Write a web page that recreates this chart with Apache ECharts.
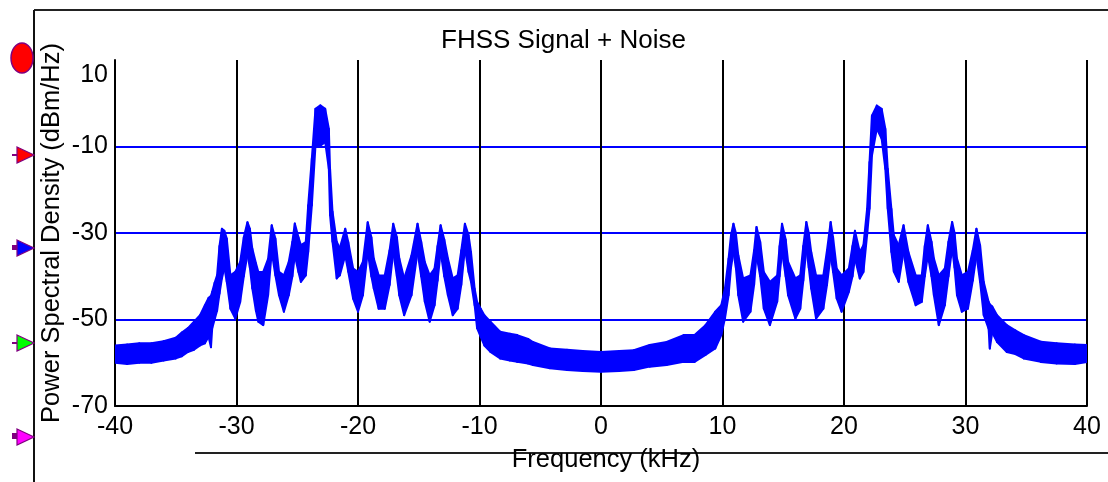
<!DOCTYPE html>
<html>
<head>
<meta charset="utf-8">
<script src="https://cdn.jsdelivr.net/npm/echarts@6/dist/echarts.min.js"></script>
<style>
html,body{margin:0;padding:0;background:#fff;}
#chart{width:1108px;height:482px;}
</style>
</head>
<body>
<div id="chart"></div>
<script>
// Frequency (kHz) of read points
var freqKHz = [
-40,-39,-38,-37,-36,-35,-34.5,-34,-33.5,-33,-32.6,-32.3,-32.1,-32,-31.8,-31.6,-31.4,-31.2,-31,-30.8,-30.5,-30.1,-29.7,-29.4,-29.1,-28.9,-28.7,-28.4,-28.2,-27.8,-27.4,-27.1,-26.8,-26.5,-26.1,-25.7,-25.4,-25.2,-24.9,-24.7,-24.3,-24.1,-23.8,-23.5,-23.1,-22.7,-22.4,-22.3,-22.1,-21.75,-21.5,-21.05,-20.8,-20.4,-20,-19.6,-19.2,-18.9,-18.7,-18.3,-17.8,-17.4,-17.1,-16.8,-16.6,-16.2,-15.6,-15.1,-14.8,-14.5,-14.1,-13.7,-13.45,-13.2,-12.9,-12.6,-12.2,-11.8,-11.5,-11.2,-10.9,-10.7,-10.4,-10.2,-9.9,-9.6,-9.1,-8.3,-7.5,-6.9,-6,-5.6,-4.2,-2.8,-1.5,0,
1.5,2.7,4,5.4,6.8,7.7,8.6,9.4,9.9,10.2,10.5,10.7,10.9,11.1,11.3,11.7,12.3,12.6,12.8,13.1,13.4,13.9,14.5,14.7,14.9,15.2,15.4,16,16.4,16.65,16.9,17.1,17.3,17.7,18.3,18.6,18.9,19.1,19.4,19.8,20.4,20.7,20.9,21.3,21.6,21.9,22.1,22.3,22.7,23.1,23.4,23.6,23.9,24.1,24.5,24.9,25.3,25.9,26.4,26.65,26.9,27.2,27.4,27.8,28.3,28.6,28.9,29.1,29.3,29.7,30.2,30.6,30.9,31.2,31.5,31.9,32,32.2,32.6,33.4,34.1,34.8,36.2,37.5,39,40
];
// Upper edge of the noisy trace (dBm/Hz)
var psdHigh = [
-56,-55.8,-55.5,-55.5,-55,-54.2,-53,-52,-50.5,-49,-46.7,-45,-44.5,-43.6,-41.5,-39.8,-33,-29,-29.5,-31.3,-39.8,-39,-36.7,-31,-27.5,-29,-33.6,-37,-39,-39,-36,-28.2,-31.3,-39,-39.8,-36.7,-32,-27.8,-31,-32.8,-32.1,-23.6,-12.8,-1.3,-0.5,-1.3,-5.9,-15.2,-25,-32,-33.5,-29,-32.1,-38.2,-39,-36.7,-27.5,-31,-35.9,-39.8,-39.8,-34,-27.85,-31,-35.9,-40.5,-35.2,-27.85,-32,-36.7,-39.8,-38.2,-33,-28.2,-31.5,-35.9,-40.5,-39.8,-34,-27.85,-30.5,-34.4,-42.85,-45.9,-47.5,-49,-50.5,-52.8,-53.3,-53.6,-54.5,-55.2,-56.7,-57,-57.3,-57.5,
-57.3,-57.1,-55.9,-55.2,-53.6,-53.6,-51.3,-48.2,-46.7,-42.85,-35.9,-30.5,-27.85,-30,-35.15,-40.5,-39.8,-34,-28.6,-32,-39,-41.3,-39.8,-33,-27.85,-31.5,-36.7,-40.5,-39.8,-33,-27.46,-30,-34.4,-39.8,-39.8,-34,-27.46,-31,-38.2,-39.8,-38.2,-33,-29.5,-34.4,-32.8,-24.4,-13.6,-2.85,-0.54,-1.31,-5.9,-15.15,-24.4,-30.5,-32.85,-28.2,-34.4,-39.8,-39.8,-33,-28.2,-32,-35.9,-39.8,-38.2,-32,-27.46,-30,-35.9,-39.8,-39,-34,-29,-32.85,-41.3,-45.9,-46.5,-47,-49,-51.3,-52.5,-53.6,-55.15,-55.5,-55.8,-55.9
];
// Lower edge of the noisy trace (dBm/Hz)
var psdLow = [
-60,-60.3,-60,-60,-59.5,-59,-58.5,-57.5,-57,-56,-55.5,-54,-56.4,-52,-50,-48,-44,-40.5,-38,-41.3,-47.5,-49.8,-46,-40,-35,-38,-42.8,-48,-50.5,-51.3,-44.4,-34.4,-39.8,-44.4,-48.2,-44.4,-40,-35.2,-39,-41.3,-39.8,-34.4,-23.6,-9.8,-9.8,-9,-15.2,-25.9,-32,-40.5,-39.8,-35.2,-39,-45.2,-48.2,-44.4,-34.4,-40,-42.85,-47.5,-47.5,-42,-34.4,-40,-44.4,-49,-44.4,-34.4,-40,-45.9,-50.5,-46.7,-41,-34.4,-40,-44.4,-49,-47.5,-42,-33.6,-39,-41.3,-46.7,-52,-54,-56,-57.5,-59,-59.5,-59.8,-60.2,-60.5,-61.3,-61.7,-61.9,-62.1,
-61.9,-61.7,-60.9,-60.5,-59.8,-59.8,-58.2,-56.7,-53.6,-49.8,-44.4,-38,-34.4,-38,-44.4,-50.5,-48.2,-42,-35.15,-40,-47.5,-51.3,-45.9,-40,-34.4,-40,-44.4,-49.8,-47.5,-41,-33.6,-38,-42.85,-49.8,-47.5,-42,-35.15,-39,-45.15,-48.2,-43.6,-40,-35.9,-40.5,-39,-30.5,-24.4,-12.1,-5.9,-8.23,-15.15,-24.4,-34.4,-38.9,-41.3,-34.4,-41.3,-46.7,-45.9,-40,-35.15,-40,-44.4,-51.3,-46.7,-40,-33.6,-38,-44.4,-48.2,-47.5,-41,-35.15,-41.3,-49,-52.1,-56.7,-53,-55.2,-57.5,-58,-59,-59.8,-60.15,-60.3,-59.8
];
var xTicks = [-40,-30,-20,-10,0,10,20,30,40];
var yTicks = [-70,-50,-30,-10,10];

var traceData = freqKHz.map(function(f,i){return [f, psdHigh[i], psdLow[i]];});

var FONT = 'Liberation Sans, Arial, sans-serif';
var BLUE = '#0000ff';
var chart = echarts.init(document.getElementById('chart'), null, {renderer:'canvas'});
var purple = '#800080';
function tri(cy, fill){
  return {type:'polygon', shape:{points:[[17,cy-8],[34,cy],[17,cy+8]]}, style:{fill:fill, stroke:purple, lineWidth:1.2}, z:10};
}
function renderBand(params, api){
  var i = params.dataIndexInside;
  var n = params.dataInsideLength;
  if (i >= n - 1) return null;
  var a1 = api.coord([api.value(0,i), api.value(1,i)]);
  var b1 = api.coord([api.value(0,i+1), api.value(1,i+1)]);
  var b2 = api.coord([api.value(0,i+1), api.value(2,i+1)]);
  var a2 = api.coord([api.value(0,i), api.value(2,i)]);
  return {type:'polygon', shape:{points:[a1,b1,b2,a2]},
    style:{fill:BLUE, stroke:BLUE, lineWidth:2, lineJoin:'round'}};
}
chart.setOption({
  animation:false,
  backgroundColor:'#fff',
  title:{text:'FHSS Signal + Noise', left:436, top:23,
    textStyle:{fontFamily:FONT, fontSize:26, fontWeight:'normal', color:'#000'}},
  grid:{left:115, right:21, top:60, bottom:76, containLabel:false},
  xAxis:{type:'value', min:xTicks[0], max:xTicks[xTicks.length-1], interval:10,
    name:'Frequency (kHz)', nameLocation:'middle', nameGap:41, nameMoveOverlap:false,
    nameTextStyle:{fontFamily:FONT, fontSize:25.5, color:'#000', padding:[0,0,0,10]},
    axisLine:{show:true, onZero:false, lineStyle:{color:'#000', width:2}},
    axisTick:{show:false},
    axisLabel:{fontFamily:FONT, fontSize:25, color:'#000', margin:9},
    splitLine:{show:true, lineStyle:{color:'#000', width:2}}
  },
  yAxis:{type:'value', min:yTicks[0], max:yTicks[yTicks.length-1], interval:20,
    name:'Power Spectral Density (dBm/Hz)', nameLocation:'middle', nameGap:50, nameMoveOverlap:false,
    nameTextStyle:{fontFamily:FONT, fontSize:25.5, color:'#000'},
    axisLine:{show:true, onZero:false, lineStyle:{color:'#000', width:2}},
    axisTick:{show:false},
    axisLabel:{fontFamily:FONT, fontSize:25, color:'#000', margin:7,
      formatter:function(v){ return v === yTicks[yTicks.length-1] ? '{top|'+v+'}' : String(v); },
      rich:{top:{fontFamily:FONT, fontSize:25, color:'#000', padding:[31,0,0,0]}}},
    splitLine:{show:true, showMaxLine:false, lineStyle:{color:['#000',BLUE,BLUE,BLUE,'rgba(0,0,0,0)'], width:2}}
  },
  series:[
    {type:'custom', name:'PSD', data:traceData, renderItem:renderBand, z:3,
      encode:{x:0, y:[1,2]}, clip:true}
  ],
  graphic:[
    {type:'line', shape:{x1:34,y1:10,x2:1108,y2:10}, style:{stroke:'#222', lineWidth:2}},
    {type:'line', shape:{x1:34,y1:10,x2:34,y2:482}, style:{stroke:'#111', lineWidth:2}},
    {type:'line', shape:{x1:195,y1:453,x2:1108,y2:453}, style:{stroke:'#222', lineWidth:2}},
    {type:'ellipse', shape:{cx:22,cy:58,rx:11,ry:15}, style:{fill:'#ff0000', stroke:purple, lineWidth:1.5}},
    {type:'line', shape:{x1:12,y1:155,x2:17,y2:155}, style:{stroke:purple, lineWidth:2}},
    tri(155,'#ff0000'),
    {type:'rect', shape:{x:12,y:245,width:5,height:5}, style:{fill:purple}},
    tri(248,BLUE),
    {type:'line', shape:{x1:12,y1:343,x2:17,y2:343}, style:{stroke:purple, lineWidth:2}},
    tri(343,'#00ff00'),
    {type:'rect', shape:{x:12,y:433,width:5,height:6}, style:{fill:purple}},
    tri(437,'#ff00ff')
  ]
});
</script>
</body>
</html>
